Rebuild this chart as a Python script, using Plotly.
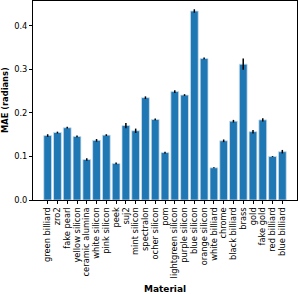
import plotly.graph_objects as go

materials = ["green billiard", "zro2", "fake pearl", "yellow silicon", "ceramic alumina",
             "white silicon", "pink silicon", "peek", "suj2", "mint silicon", "spectralon",
             "ocher silicon", "pom", "lightgreen silicon", "purple silicon", "blue silicon",
             "orange silicon", "white billiard", "chrome", "black billiard", "brass", "gold",
             "fake gold", "red billiard", "blue billiard"]
mae = [0.148, 0.155, 0.166, 0.146, 0.093, 0.137, 0.149, 0.084, 0.171, 0.159, 0.235,
       0.185, 0.109, 0.249, 0.241, 0.434, 0.325, 0.074, 0.136, 0.181, 0.312, 0.157,
       0.184, 0.100, 0.111]
err = [0.003, 0.002, 0.002, 0.002, 0.003, 0.003, 0.002, 0.002, 0.006, 0.005, 0.003,
       0.002, 0.002, 0.003, 0.002, 0.004, 0.002, 0.001, 0.003, 0.003, 0.013, 0.004,
       0.004, 0.001, 0.004]
yticks = [0.0, 0.1, 0.2, 0.3, 0.4]

fig = go.Figure(go.Bar(
    x=list(range(len(materials))), y=mae, width=0.8,
    marker=dict(color="#1f77b4", line=dict(color="#cfe0ee", width=0.8)),
    error_y=dict(type="data", array=err, color="black", thickness=1.5, width=0),
))
font = dict(family="DejaVu Sans", size=8.3, color="black")
fig.update_layout(
    width=299, height=294, margin=dict(l=33, r=2, t=1, b=94),
    plot_bgcolor="white", paper_bgcolor="white", font=font, showlegend=False,
    annotations=[
        dict(text="<b>MAE (radians)</b>", xref="paper", yref="paper", x=0, y=0.5,
             xanchor="center", yanchor="middle", xshift=-28.5, textangle=-90,
             showarrow=False, font=dict(size=8.3)),
        dict(text="<b>Material</b>", xref="paper", yref="paper", x=0.5, y=0,
             xanchor="center", yanchor="middle", yshift=-88.5,
             showarrow=False, font=dict(size=9)),
    ],
)
fig.update_xaxes(
    range=[-1.5, 25.5], tickmode="array", tickvals=list(range(len(materials))),
    ticktext=materials, tickangle=-90, ticks="outside", ticklen=3, tickcolor="black",
    showline=True, linecolor="black", linewidth=1, mirror=True, showgrid=False,
    automargin=False, tickfont=dict(size=8.3),
)
fig.update_yaxes(
    range=[0, 0.457], tickmode="array", tickvals=yticks,
    ticktext=[f"{v:.1f}" for v in yticks], ticks="outside", ticklen=3, tickcolor="black",
    showline=True, linecolor="black", linewidth=1, mirror=True, showgrid=False, zeroline=False,
    automargin=False, tickfont=dict(size=8.3),
)
fig.write_html("out.html", config={"displayModeBar": False},
               post_script="document.body.style.margin='0px';")
